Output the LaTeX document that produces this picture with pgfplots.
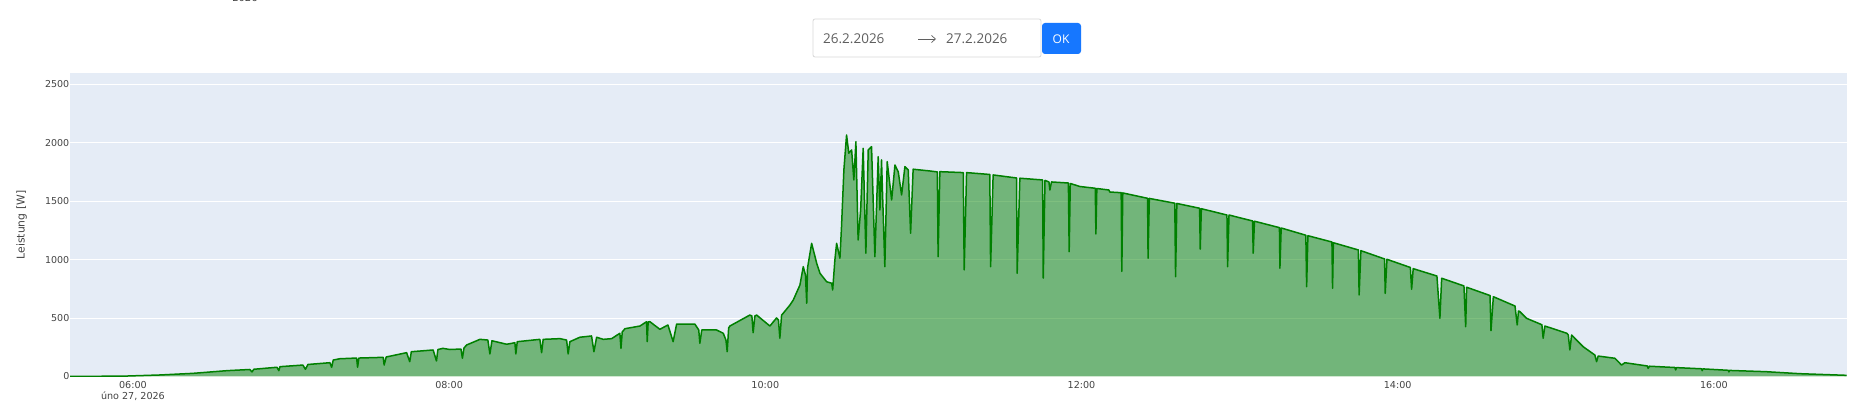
\documentclass[border=0pt]{standalone}
\usepackage{fontspec}
\setmainfont{DejaVu Sans}
\newfontfamily\pickerfont{Open Sans}
\usepackage{pgfplots}
\usepackage{pgfplotstable}
\pgfplotsset{compat=1.18}
\usetikzlibrary{arrows.meta}
\definecolor{plotbg}{HTML}{E5ECF6}
\definecolor{ticktext}{HTML}{444444}
\definecolor{linegreen}{HTML}{008000}
\definecolor{okblue}{HTML}{1677FF}
\definecolor{pickertext}{HTML}{5F5F5F}
\definecolor{pickerborder}{HTML}{D9D9D9}
\pgfplotstableread{
h w
5.602 0
5.791 2
5.962 4
6.171 13
6.380 27
6.595 50
6.740 60
6.753 39
6.765 62
6.911 79
6.923 50
6.930 84
7.075 98
7.091 62
7.107 103
7.246 118
7.257 79
7.267 141
7.309 152
7.415 158
7.421 79
7.429 158
7.583 164
7.589 98
7.602 167
7.731 204
7.751 127
7.761 212
7.899 227
7.920 133
7.929 231
7.961 241
8.005 231
8.075 235
8.084 156
8.094 244
8.111 270
8.195 318
8.245 312
8.258 193
8.271 306
8.364 276
8.416 289
8.422 193
8.431 298
8.574 318
8.585 204
8.595 318
8.701 324
8.743 312
8.753 193
8.764 298
8.827 336
8.901 347
8.916 212
8.933 336
8.975 318
9.028 324
9.080 370
9.087 241
9.095 381
9.112 409
9.207 432
9.249 469
9.253 298
9.259 467
9.270 469
9.333 404
9.384 441
9.417 298
9.439 449
9.554 449
9.579 398
9.586 284
9.598 398
9.629 398
9.692 398
9.734 370
9.751 312
9.759 212
9.768 415
9.776 432
9.902 526
9.915 518
9.923 375
9.934 518
9.945 526
10.029 432
10.071 501
10.083 484
10.092 327
10.103 526
10.113 541
10.156 612
10.177 655
10.219 783
10.240 940
10.254 869
10.262 627
10.267 929
10.272 969
10.293 1140
10.325 969
10.346 883
10.388 811
10.420 798
10.426 740
10.440 997
10.451 1140
10.472 1012
10.482 1282
10.497 1768
10.514 2067
10.528 1911
10.546 1939
10.560 1682
10.573 2010
10.587 1168
10.603 1425
10.619 1953
10.636 1055
10.651 1939
10.672 1967
10.693 1025
10.714 1881
10.725 1425
10.735 1853
10.756 940
10.771 1839
10.799 1511
10.820 1810
10.841 1751
10.862 1554
10.883 1796
10.904 1768
10.919 1226
10.935 1774
11.041 1759
11.088 1751
11.093 1025
11.104 1753
11.252 1745
11.258 912
11.273 1745
11.420 1729
11.425 940
11.441 1725
11.589 1699
11.593 883
11.610 1697
11.754 1682
11.758 841
11.769 1678
11.794 1665
11.800 1596
11.810 1665
11.917 1656
11.922 1068
11.929 1652
11.990 1626
12.087 1611
12.091 1220
12.097 1609
12.173 1596
12.179 1579
12.251 1573
12.255 900
12.261 1571
12.418 1525
12.421 1012
12.429 1524
12.590 1483
12.595 854
12.603 1481
12.747 1440
12.751 1091
12.758 1436
12.920 1382
12.924 940
12.933 1382
13.082 1331
13.086 1055
13.094 1329
13.252 1274
13.255 926
13.263 1271
13.419 1209
13.424 769
13.432 1205
13.584 1151
13.588 755
13.593 1145
13.751 1083
13.756 698
13.767 1077
13.917 1006
13.921 712
13.932 1003
14.080 933
14.088 746
14.098 923
14.248 860
14.267 498
14.278 841
14.419 775
14.430 426
14.436 764
14.584 693
14.590 392
14.605 683
14.742 603
14.756 441
14.764 561
14.773 555
14.815 498
14.912 443
14.920 327
14.931 432
15.070 370
15.079 355
15.089 227
15.100 355
15.173 255
15.247 184
15.258 127
15.268 175
15.374 156
15.416 98
15.437 118
15.579 90
15.584 70
15.592 88
15.753 77
15.758 56
15.763 76
15.922 66
15.926 50
15.931 65
16.092 53
16.095 39
16.099 52
16.333 41
16.544 24
16.840 10
}\powerdata
\begin{document}
\begin{tikzpicture}[x=1pt,y=1pt]
\useasboundingbox (0,0) rectangle (1869,412);
\fill[white] (0,0) rectangle (1869,412);
\begin{axis}[
  at={(70pt,35.5pt)}, anchor=south west,
  width=1777pt, height=303.8pt, scale only axis,
  xmin=5.602, xmax=16.842, ymin=0, ymax=2600,
  axis background/.style={fill=plotbg},
  axis line style={draw=none},
  tick style={draw=none},
  ytick={0,500,1000,1500,2000,2500},
  xtick={6,8,10,12,14,16},
  xticklabels={{06:00\\úno 27, 2026},08:00,10:00,12:00,14:00,16:00},
  ymajorgrids=true,
  major grid style={white, line width=0.9pt},
  /pgf/number format/assume math mode=true,
  /pgf/number format/1000 sep={},
  yticklabel style={font=\fontsize{9.5}{11}\selectfont, text=ticktext, anchor=east, inner sep=0pt, xshift=-0.5pt},
  xticklabel style={font=\fontsize{9.6}{11.7}\selectfont, text=ticktext, anchor=north, inner sep=0pt, align=center, yshift=-4.2pt},
  clip=true,
]
\addplot[draw=none, fill=linegreen, fill opacity=0.5] table[x=h,y=w] {\powerdata} \closedcycle;
\addplot[linegreen, line width=1.5pt, line join=round, mark=none] table[x=h,y=w] {\powerdata};
\end{axis}
\node[rotate=90, font=\fontsize{10.8}{13}\selectfont, text=ticktext] at (21.7,187) {Leistung [W]};
\node[anchor=base, font=\fontsize{10}{12}\selectfont, text=ticktext] at (245,410) {2026};
% date picker
\draw[pickerborder, line width=0.8pt, rounded corners=2pt, fill=white] (813,355) rectangle (1041,393);
\node[anchor=west, inner sep=0pt, font=\pickerfont\fontsize{13.5}{16}\selectfont, text=pickertext] at (823,373) {26.2.2026};
\draw[pickertext, line width=0.7pt, -{Straight Barb[length=4pt,width=7pt]}] (918,373) -- (936,373);
\node[anchor=west, inner sep=0pt, font=\pickerfont\fontsize{13.5}{16}\selectfont, text=pickertext] at (946,373) {27.2.2026};
\fill[okblue, rounded corners=3pt] (1042,358) rectangle (1081,389);
\node[inner sep=0pt, font=\pickerfont\fontsize{12}{14}\selectfont, text=white] at (1061,372.5) {OK};
\end{tikzpicture}
\end{document}
